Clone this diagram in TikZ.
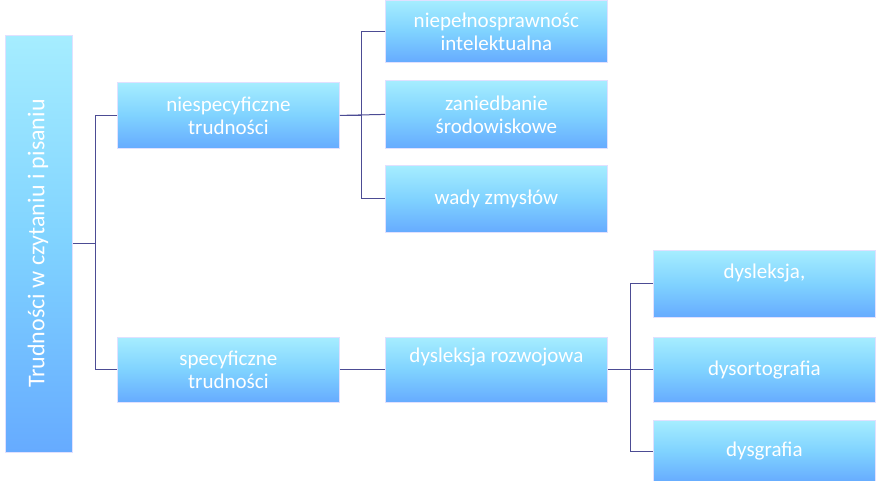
\documentclass[tikz,border=0pt]{standalone}
\usepackage{fontspec}
\setmainfont{Carlito}
\begin{document}
\begin{tikzpicture}[x=1pt,y=-1pt,
  box/.style={draw=white!70!blue!40,line width=0.8pt,top color=blue!20!cyan!35!white,bottom color=blue!55!cyan!60!white,
    middle color=blue!35!cyan!50!white,text=white,font=\fontsize{21}{23}\selectfont,align=center,
    minimum width=222pt,inner sep=2pt,anchor=north west},
  con/.style={draw=blue!40!black!70!white,line width=1pt}]
\useasboundingbox (0,0) rectangle (880,480);
\fill[white] (0,0) rectangle (880,480);
\node[box,minimum width=67pt,minimum height=417pt] (root) at (5,35) {};
\node[rotate=90,text=white,font=\fontsize{24}{26}\selectfont] (roott) at (38,243.5) {Trudności w czytaniu i pisaniu};
\node[box,minimum height=66pt] (n) at (117,82) {niespecyficzne\\trudności};
\node[box,minimum height=65pt] (s) at (117,337) {specyficzne\\trudności};
\node[box,minimum height=62pt] (a) at (385,0) {niepełnosprawnośc\\intelektualna};
\node[box,minimum height=68pt] (b) at (385,80) {zaniedbanie\\środowiskowe};
\node[box,minimum height=67pt] (c) at (385,165) {wady zmysłów};
\node[box,minimum height=65pt,text depth=30pt] (d) at (385,337) {dysleksja rozwojowa};
\node[box,minimum height=67pt,text depth=25pt] (e) at (653,250) {dysleksja,};
\node[box,minimum height=65pt] (f) at (653,337) {dysortografia};
\node[box,minimum height=62pt] (g) at (653,420) {dysgrafia};
\draw[con] (root.east) -- ++(23,0) coordinate (r1);
\draw[con] (n.west) -| (r1) |- (s.west);
\draw[con] (n.east) -- ++(22,0) coordinate (n1);
\draw[con] (a.west) -| (n1) |- (c.west);
\draw[con] (b.west) -- (n.east);
\draw[con] (s.east) -- (d.west);
\draw[con] (d.east) -- ++(23,0) coordinate (d1);
\draw[con] (e.west) -| (d1) |- (g.west);
\draw[con] (f.west) -- (d.east);
\end{tikzpicture}
\end{document}
